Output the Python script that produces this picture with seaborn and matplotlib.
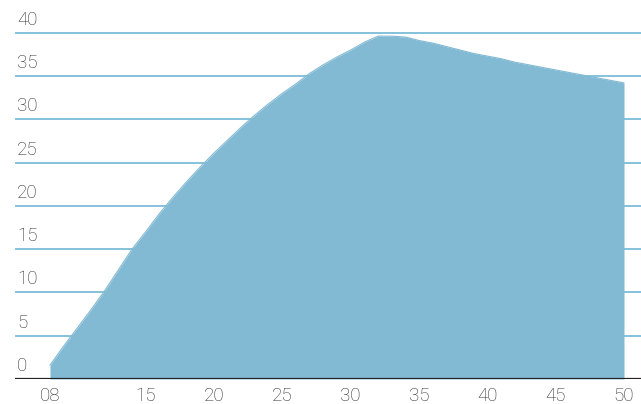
import matplotlib
matplotlib.use("Agg")
import matplotlib.pyplot as plt
import matplotlib.transforms as mtransforms
import seaborn as sns
import pandas as pd

years = list(range(2008, 2051))
values = [1.6, 3.8, 5.9, 8.0, 10.2, 12.6, 15.0, 17.0, 19.1, 21.0,
          22.8, 24.5, 26.1, 27.6, 29.1, 30.5, 31.8, 33.0, 34.1, 35.3,
          36.3, 37.2, 38.0, 38.9, 39.6, 39.6, 39.5, 39.1, 38.8, 38.4,
          38.0, 37.6, 37.3, 37.0, 36.6, 36.3, 36.0, 35.7, 35.4, 35.1,
          34.8, 34.5, 34.2]
x_ticks = [2008, 2015, 2020, 2025, 2030, 2035, 2040, 2045, 2050]
x_tick_labels = ["08", "15", "20", "25", "30", "35", "40", "45", "50"]
y_ticks = [0, 5, 10, 15, 20, 25, 30, 35, 40]

df = pd.DataFrame({"year": years, "value": values})

sns.set_theme(style="white")
plt.rcParams["font.family"] = ["Roboto", "DejaVu Sans"]

FILL = "#82BAD4"
GRID = "#72B8D4"
TXT = "#2e2e2e"
FS = 13.5

fig = plt.figure(figsize=(6.41, 4.04), dpi=100)
W, H = 641, 404
left_px, right_px, bottom_px, top_px = 15, 641, 379, 10
ax = fig.add_axes([left_px / W, (H - bottom_px) / H,
                   (right_px - left_px) / W, (bottom_px - top_px) / H])

px_per_year = (624 - 50) / 42
x0 = 2008 - (50 - left_px) / px_per_year
x1 = 2050 + (right_px - 624) / px_per_year
px_per_unit = (379 - 32.7) / 40
ax.set_xlim(x0, x1)
ax.set_ylim(0, (bottom_px - top_px) / px_per_unit)

for yv in y_ticks[1:]:
    ax.axhline(yv, color=GRID, lw=1.2, zorder=1)

ax.fill_between(df["year"], 0, df["value"], color=FILL, lw=0, zorder=2)
sns.lineplot(data=df, x="year", y="value", ax=ax, color=FILL, lw=0.8, zorder=3)
ax.axhline(0, color="#222222", lw=1.6, zorder=4)

for s in ax.spines.values():
    s.set_visible(False)

ax.set_xticks(x_ticks)
ax.set_xticklabels(x_tick_labels)
ax.tick_params(axis="x", length=0, pad=6, labelsize=FS, labelcolor=TXT)
ax.set_yticks([])
ax.set_xlabel("")
ax.set_ylabel("")
for lab in ax.get_xticklabels():
    lab.set_fontweight("light")

trans = mtransforms.blended_transform_factory(fig.transFigure, ax.transData)
trans = mtransforms.offset_copy(trans, fig=fig, x=0, y=4, units="dots")
for yv in y_ticks:
    ax.text(17 / W, yv, str(yv), transform=trans, ha="left", va="bottom",
            fontsize=FS, color=TXT, fontweight="light", clip_on=False)

fig.savefig("out.png", dpi=100)
